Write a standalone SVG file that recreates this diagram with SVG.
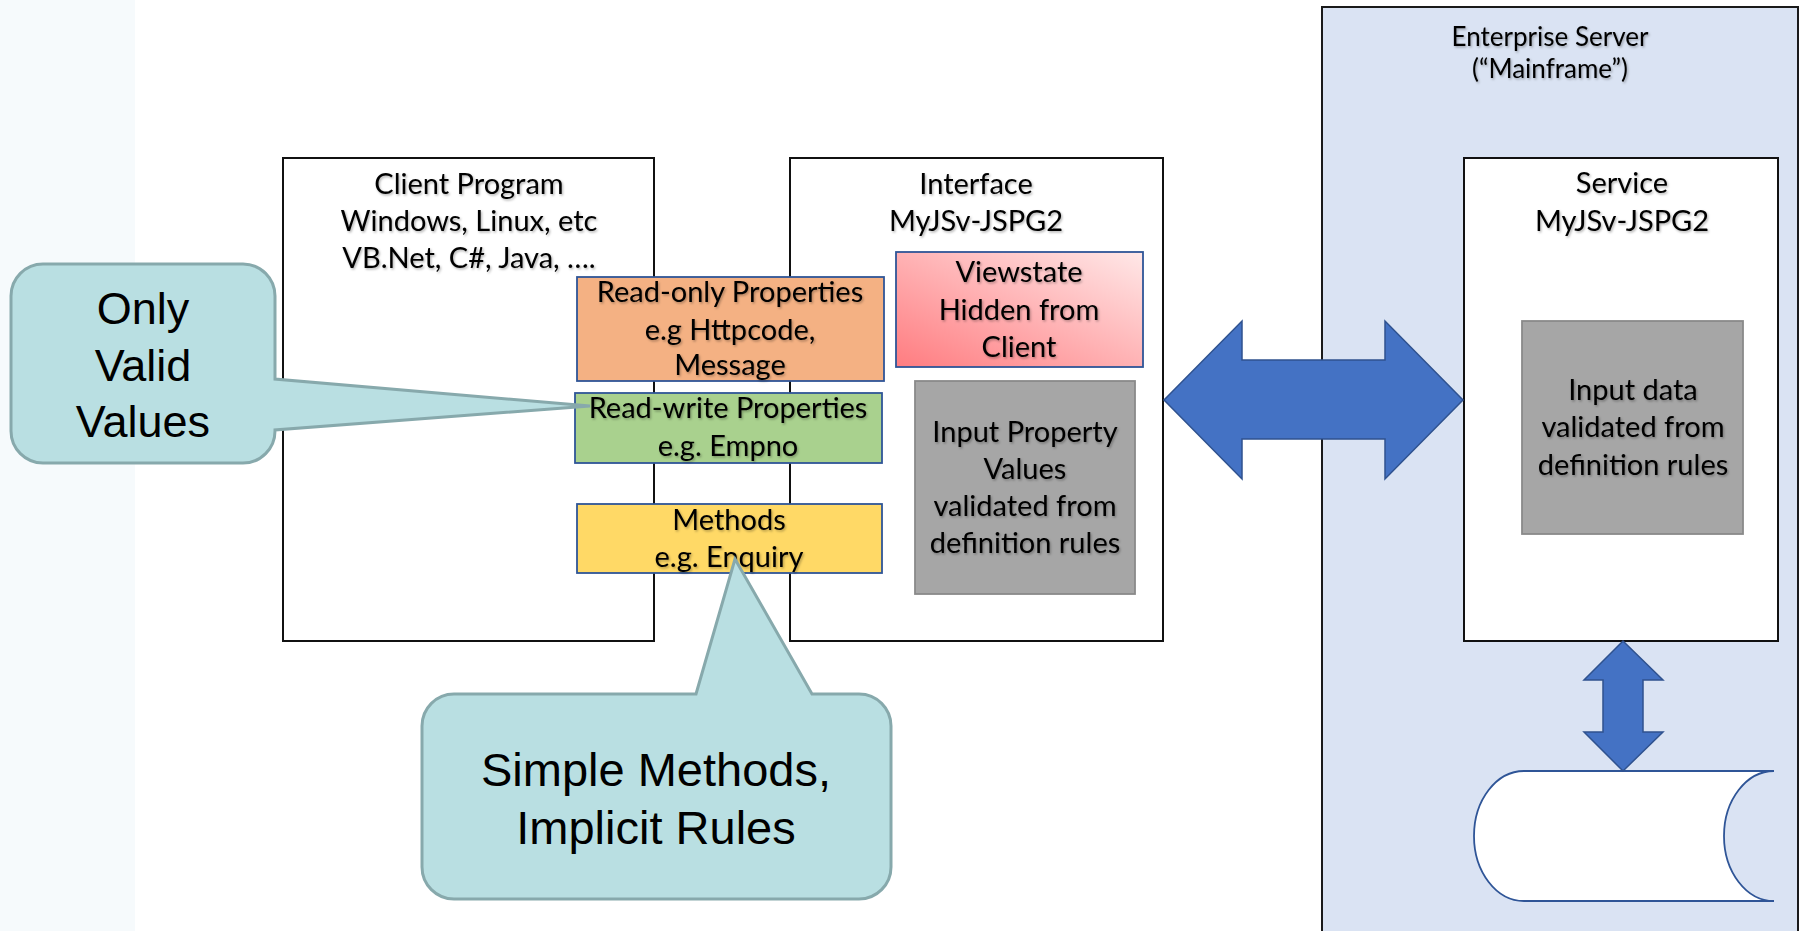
<svg xmlns="http://www.w3.org/2000/svg" width="1804" height="931" viewBox="0 0 1804 931">
<defs>
<style>
.box{fill:#fff;stroke:#111;stroke-width:2}
.inner{stroke:#2F5597;stroke-width:1.8}
.gray{fill:#A6A6A6;stroke:#8A8A8A;stroke-width:1.8}
.cal{font-family:Lato,"Liberation Sans",sans-serif;font-size:29px;fill:#000;text-anchor:middle;filter:url(#sh)}
.hdr{font-size:26px}
.co{fill:#B9DFE2;stroke:#87A9AC;stroke-width:3}
.cot{font-family:"Liberation Sans",Arial,sans-serif;font-size:47px;fill:#000;text-anchor:middle}
.arr{fill:#4472C4;stroke:#2F528F;stroke-width:1.5}
</style>
<filter id="sh" x="-10%" y="-30%" width="120%" height="160%">
<feDropShadow dx="1.2" dy="1.5" stdDeviation="0.8" flood-color="#000" flood-opacity="0.3"/>
</filter>
<linearGradient id="vs" x1="0" y1="1" x2="1" y2="0">
<stop offset="0" stop-color="#FF7C80"/>
<stop offset="0.5" stop-color="#FFB2B4"/>
<stop offset="1" stop-color="#FFE8E8"/>
</linearGradient>
</defs>
<rect x="0" y="0" width="1804" height="931" fill="#fff"/>
<rect x="0" y="0" width="135" height="931" fill="#F6FAFC"/>

<g id="enterprise-server">
<rect x="1322" y="7" width="476" height="940" fill="#DAE3F3" stroke="#1a1a1a" stroke-width="2"/>
<text class="cal hdr" x="1550" y="46">Enterprise Server</text>
<text class="cal hdr" x="1550" y="78">(“Mainframe”)</text>
</g>

<g id="client-program">
<rect class="box" x="283" y="158" width="371" height="483"/>
<text class="cal" x="469" y="194">Client Program</text>
<text class="cal" x="469" y="231">Windows, Linux, etc</text>
<text class="cal" x="469" y="268">VB.Net, C#, Java, ….</text>
</g>

<g id="interface">
<rect class="box" x="790" y="158" width="373" height="483"/>
<text class="cal" x="976" y="194">Interface</text>
<text class="cal" x="976" y="231">MyJSv-JSPG2</text>
</g>

<g id="viewstate">
<rect class="inner" x="896" y="252" width="247" height="115" fill="url(#vs)"/>
<text class="cal" x="1019" y="282">Viewstate</text>
<text class="cal" x="1019" y="320">Hidden from</text>
<text class="cal" x="1019" y="357">Client</text>
</g>

<g id="input-property-values">
<rect class="gray" x="915" y="381" width="220" height="213"/>
<text class="cal" x="1025" y="442">Input Property</text>
<text class="cal" x="1025" y="479">Values</text>
<text class="cal" x="1025" y="516">validated from</text>
<text class="cal" x="1025" y="553">definition rules</text>
</g>

<g id="read-only-properties">
<rect class="inner" x="577" y="277" width="307" height="104" fill="#F4B183"/>
<text class="cal" x="730" y="302">Read-only Properties</text>
<text class="cal" x="730" y="340">e.g Httpcode,</text>
<text class="cal" x="730" y="375">Message</text>
</g>

<g id="read-write-properties">
<rect class="inner" x="575" y="393" width="307" height="70" fill="#A9D18E"/>
<text class="cal" x="728" y="418">Read-write Properties</text>
<text class="cal" x="728" y="456">e.g. Empno</text>
</g>

<g id="methods">
<rect class="inner" x="577" y="504" width="305" height="69" fill="#FFD966"/>
<text class="cal" x="729" y="530">Methods</text>
<text class="cal" x="729" y="567">e.g. Enquiry</text>
</g>

<g id="callout-only-valid-values">
<path class="co" d="M43,264 H243 A32,32 0 0 1 275,296 V379 L590,406 L275,430 V431 A32,32 0 0 1 243,463 H43 A32,32 0 0 1 11,431 V296 A32,32 0 0 1 43,264 Z"/>
<text class="cot" x="143" y="324" style="font-size:45px">Only</text>
<text class="cot" x="143" y="381" style="font-size:45px">Valid</text>
<text class="cot" x="143" y="437" style="font-size:45px">Values</text>
</g>

<g id="callout-simple-methods">
<path class="co" d="M696,694 L735,559 L812,694 H859 A32,32 0 0 1 891,726 V867 A32,32 0 0 1 859,899 H454 A32,32 0 0 1 422,867 V726 A32,32 0 0 1 454,694 Z"/>
<text class="cot" x="656" y="786">Simple Methods,</text>
<text class="cot" x="656" y="844">Implicit Rules</text>
</g>

<g id="service">
<rect class="box" x="1464" y="158" width="314" height="483"/>
<text class="cal" x="1622" y="193">Service</text>
<text class="cal" x="1622" y="231">MyJSv-JSPG2</text>
</g>

<g id="input-data">
<rect class="gray" x="1522" y="321" width="221" height="213"/>
<text class="cal" x="1633" y="400">Input data</text>
<text class="cal" x="1633" y="437">validated from</text>
<text class="cal" x="1633" y="475">definition rules</text>
</g>

<g id="database">
<path d="M1524,771 H1774 A50,65 0 0 0 1774,901 H1524 A50,65 0 0 1 1524,771 Z" fill="#fff" stroke="none"/>
<path d="M1774,771 H1524 A50,65 0 0 0 1524,901 H1774" fill="none" stroke="#2F5597" stroke-width="1.8"/>
<path d="M1774,771 A50,65 0 0 0 1774,901" fill="none" stroke="#2F5597" stroke-width="1.8"/>
</g>

<g id="connectors">
<polygon class="arr" points="1164,400 1242,321 1242,360 1385,360 1385,321 1463,400 1385,479 1385,439 1242,439 1242,479"/>
<polygon class="arr" points="1623,641 1663,680 1643,680 1643,732 1663,732 1623,771 1584,732 1603,732 1603,680 1584,680"/>
</g>
</svg>
